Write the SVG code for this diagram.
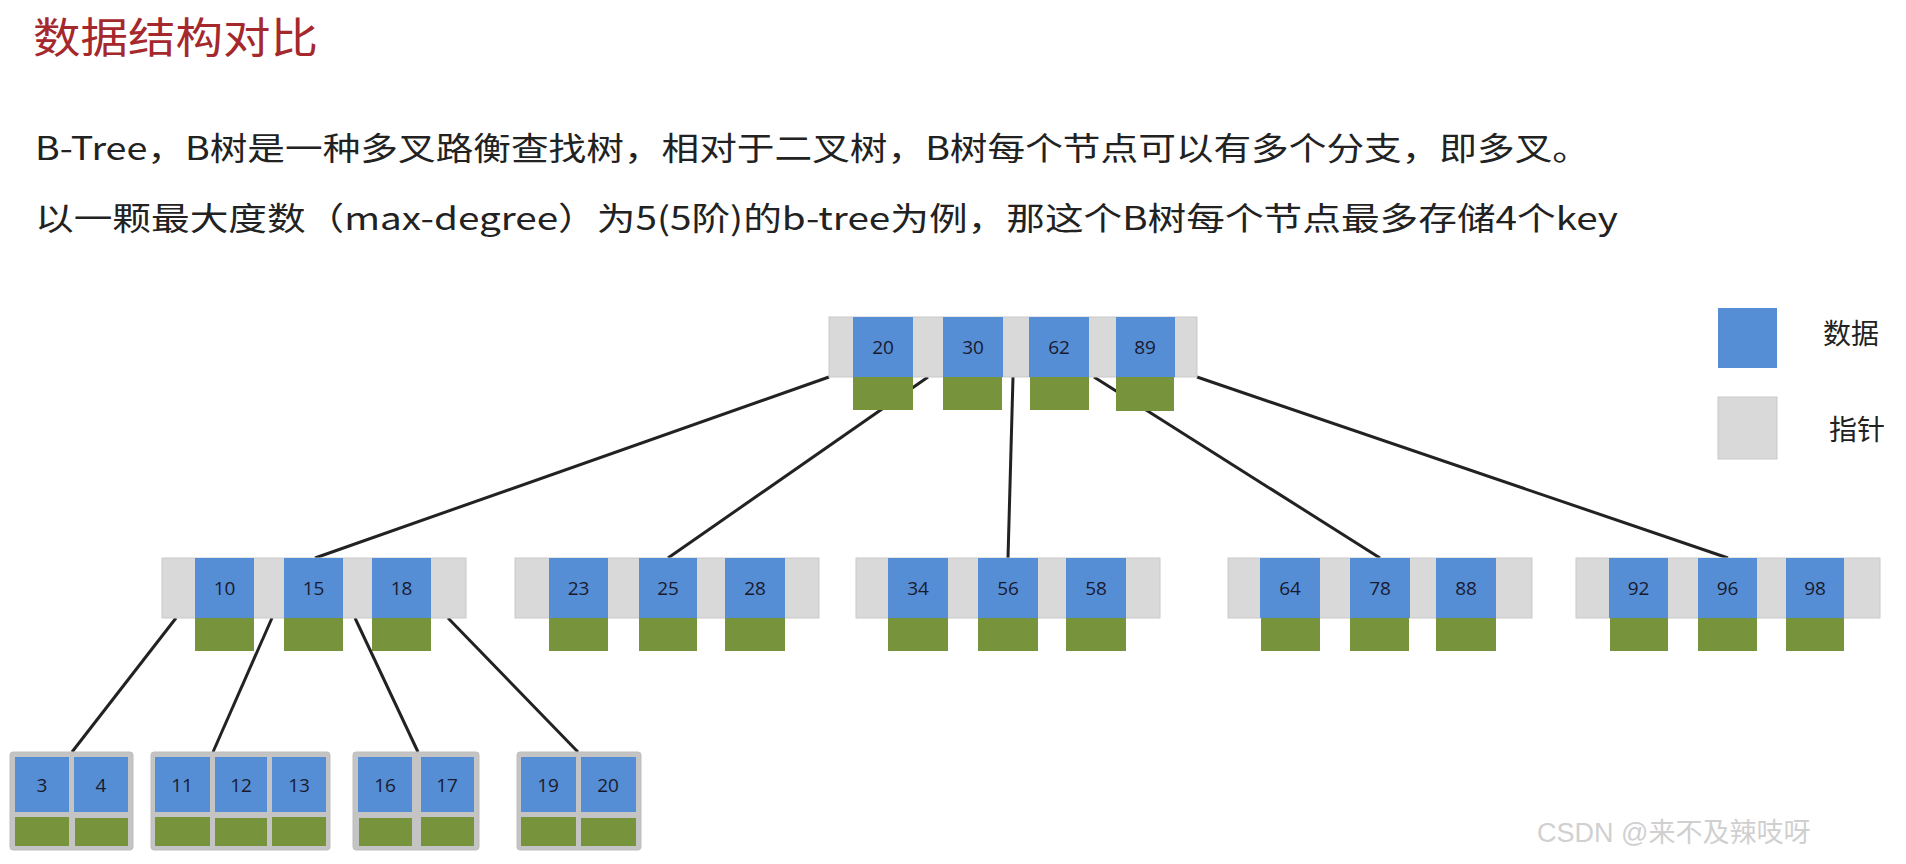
<svg xmlns="http://www.w3.org/2000/svg" width="1906" height="864" viewBox="0 0 1906 864">
<style>
.p{fill:#d9d9d9;stroke:#c9c9c9;stroke-width:1}
.k{fill:#558ed5}
.g{fill:#77933c}
.lf{fill:#c4c4c4;stroke:#bdbdbd;stroke-width:1}
.n{font-family:"Open Sans","Liberation Sans",sans-serif;font-size:19px;fill:#1a1a2e;text-anchor:middle;dominant-baseline:central}
.t{font-family:"Noto Sans CJK SC","Noto Sans",sans-serif;fill:#222}
.c{stroke:#222;stroke-width:3;fill:none}
</style>
<rect width="1906" height="864" fill="#fff"/>
<text class="t" x="33" y="53" font-size="42" fill="#a5282c" style="fill:#a5282c" textLength="285" lengthAdjust="spacingAndGlyphs">数据结构对比</text>
<text class="t" x="35" y="160" font-size="32" textLength="1555" lengthAdjust="spacingAndGlyphs">B-Tree，B树是一种多叉路衡查找树，相对于二叉树，B树每个节点可以有多个分支，即多叉。</text>
<text class="t" x="35" y="230" font-size="32" textLength="1583" lengthAdjust="spacingAndGlyphs">以一颗最大度数（max-degree）为5(5阶)的b-tree为例，那这个B树每个节点最多存储4个key</text>

<g id="connectors">
<line class="c" x1="829" y1="377" x2="315" y2="558"/>
<line class="c" x1="928" y1="377" x2="668" y2="558"/>
<line class="c" x1="1013" y1="377" x2="1008" y2="558"/>
<line class="c" x1="1094" y1="377" x2="1380" y2="558"/>
<line class="c" x1="1197" y1="377" x2="1728" y2="558"/>
<line class="c" x1="176" y1="618" x2="72" y2="752"/>
<line class="c" x1="272" y1="618" x2="213" y2="752"/>
<line class="c" x1="355" y1="618" x2="418" y2="752"/>
<line class="c" x1="448" y1="618" x2="578" y2="752"/>
</g>

<g id="root">
<rect class="p" x="829" y="317" width="368" height="60"/>
<rect class="k" x="853" y="317" width="60" height="60"/><rect class="g" x="853" y="377" width="60" height="33"/><text class="n" x="883" y="347">20</text>
<rect class="k" x="943" y="317" width="60" height="60"/><rect class="g" x="943" y="377" width="59" height="33"/><text class="n" x="973" y="347">30</text>
<rect class="k" x="1029" y="317" width="60" height="60"/><rect class="g" x="1030" y="377" width="59" height="33"/><text class="n" x="1059" y="347">62</text>
<rect class="k" x="1116" y="317" width="59" height="60"/><rect class="g" x="1116" y="377" width="58" height="34"/><text class="n" x="1145" y="347">89</text>
</g>

<g id="mid1" transform="translate(162,0)">
<rect class="p" x="0" y="558" width="304" height="60"/>
<rect class="k" x="33" y="558" width="59" height="60"/><rect class="g" x="33" y="618" width="59" height="33"/><text class="n" x="62.5" y="588">10</text>
<rect class="k" x="122" y="558" width="59" height="60"/><rect class="g" x="122" y="618" width="59" height="33"/><text class="n" x="151.5" y="588">15</text>
<rect class="k" x="210" y="558" width="59" height="60"/><rect class="g" x="210" y="618" width="59" height="33"/><text class="n" x="239.5" y="588">18</text>
</g>
<g id="mid2" transform="translate(515,0)">
<rect class="p" x="0" y="558" width="304" height="60"/>
<rect class="k" x="34" y="558" width="59" height="60"/><rect class="g" x="34" y="618" width="59" height="33"/><text class="n" x="63.5" y="588">23</text>
<rect class="k" x="124" y="558" width="58" height="60"/><rect class="g" x="124" y="618" width="58" height="33"/><text class="n" x="153" y="588">25</text>
<rect class="k" x="210" y="558" width="60" height="60"/><rect class="g" x="210" y="618" width="60" height="33"/><text class="n" x="240" y="588">28</text>
</g>
<g id="mid3" transform="translate(856,0)">
<rect class="p" x="0" y="558" width="304" height="60"/>
<rect class="k" x="32" y="558" width="60" height="60"/><rect class="g" x="32" y="618" width="60" height="33"/><text class="n" x="62" y="588">34</text>
<rect class="k" x="122" y="558" width="60" height="60"/><rect class="g" x="122" y="618" width="60" height="33"/><text class="n" x="152" y="588">56</text>
<rect class="k" x="210" y="558" width="60" height="60"/><rect class="g" x="210" y="618" width="60" height="33"/><text class="n" x="240" y="588">58</text>
</g>
<g id="mid4" transform="translate(1228,0)">
<rect class="p" x="0" y="558" width="304" height="60"/>
<rect class="k" x="32" y="558" width="60" height="60"/><rect class="g" x="33" y="618" width="59" height="33"/><text class="n" x="62" y="588">64</text>
<rect class="k" x="122" y="558" width="60" height="60"/><rect class="g" x="122" y="618" width="59" height="33"/><text class="n" x="152" y="588">78</text>
<rect class="k" x="208" y="558" width="60" height="60"/><rect class="g" x="208" y="618" width="60" height="33"/><text class="n" x="238" y="588">88</text>
</g>
<g id="mid5" transform="translate(1576,0)">
<rect class="p" x="0" y="558" width="304" height="60"/>
<rect class="k" x="33" y="558" width="59" height="60"/><rect class="g" x="34" y="618" width="58" height="33"/><text class="n" x="62.5" y="588">92</text>
<rect class="k" x="122" y="558" width="59" height="60"/><rect class="g" x="122" y="618" width="59" height="33"/><text class="n" x="151.5" y="588">96</text>
<rect class="k" x="210" y="558" width="58" height="60"/><rect class="g" x="210" y="618" width="58" height="33"/><text class="n" x="239" y="588">98</text>
</g>

<g id="leaf1">
<rect class="lf" x="10" y="752" width="123" height="98" rx="3"/>
<rect class="k" x="15" y="757" width="54" height="55"/><rect class="g" x="15" y="817" width="54" height="29"/><text class="n" x="42" y="785">3</text>
<rect class="k" x="74" y="757" width="54" height="55"/><rect class="g" x="75" y="818" width="53" height="28"/><text class="n" x="101" y="785">4</text>
</g>
<g id="leaf2">
<rect class="lf" x="151" y="752" width="179" height="98" rx="3"/>
<rect class="k" x="155" y="757" width="55" height="55"/><rect class="g" x="155" y="817" width="55" height="29"/><text class="n" x="182" y="785">11</text>
<rect class="k" x="215" y="757" width="52" height="55"/><rect class="g" x="215" y="818" width="52" height="28"/><text class="n" x="241" y="785">12</text>
<rect class="k" x="272" y="757" width="54" height="55"/><rect class="g" x="272" y="817" width="54" height="29"/><text class="n" x="299" y="785">13</text>
</g>
<g id="leaf3">
<rect class="lf" x="353" y="752" width="126" height="98" rx="3"/>
<rect class="k" x="358" y="757" width="54" height="55"/><rect class="g" x="359" y="818" width="53" height="28"/><text class="n" x="385" y="785">16</text>
<rect class="k" x="421" y="757" width="53" height="55"/><rect class="g" x="421" y="817" width="53" height="29"/><text class="n" x="447" y="785">17</text>
</g>
<g id="leaf4">
<rect class="lf" x="517" y="752" width="124" height="98" rx="3"/>
<rect class="k" x="521" y="757" width="55" height="55"/><rect class="g" x="521" y="817" width="55" height="29"/><text class="n" x="548" y="785">19</text>
<rect class="k" x="581" y="757" width="55" height="55"/><rect class="g" x="581" y="818" width="55" height="28"/><text class="n" x="608" y="785">20</text>
</g>

<g id="legend">
<rect class="k" x="1718" y="308" width="59" height="60"/>
<text class="t" x="1823" y="344" font-size="28">数据</text>
<rect class="p" x="1718" y="397" width="59" height="62"/>
<text class="t" x="1829" y="440" font-size="28">指针</text>
</g>

<text x="1537" y="842" font-family="Liberation Sans, Noto Sans CJK SC, sans-serif" font-size="27" fill="#d0d0d0" style="font-family:'Liberation Sans','Noto Sans CJK SC',sans-serif">CSDN @来不及辣吱呀</text>
</svg>
